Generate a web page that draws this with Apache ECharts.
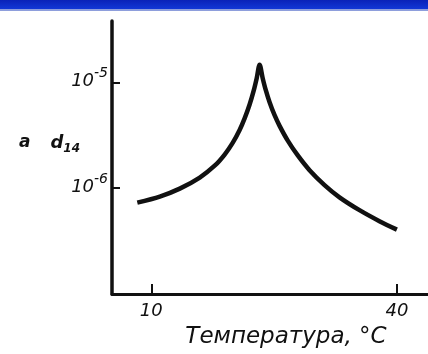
<!DOCTYPE html>
<html>
<head>
<meta charset="utf-8">
<script src="https://cdn.jsdelivr.net/npm/echarts@6/dist/echarts.min.js"></script>
<style>
  html, body { margin: 0; padding: 0; background: #ffffff; }
  #band { position: absolute; left: 0; top: 0; width: 428px; height: 9px;
          background: linear-gradient(to bottom, #0a22b8 0%, #1237d6 100%); }
  #band2 { position: absolute; left: 0; top: 9px; width: 428px; height: 2px; background: #8e9edc; }
  #chart { position: absolute; left: 0; top: 0; width: 428px; height: 354px; }
</style>
</head>
<body>
<div id="chart"></div>
<div id="band"></div>
<div id="band2"></div>
<script>
// Temperature, °C
const temperature = [8.29, 11.04, 13.48, 15.92, 17.74, 18.96, 19.94, 20.79, 21.4, 22.01, 22.5, 22.87, 23.23,
                     23.6, 23.96, 24.45, 25.06, 25.67, 26.65, 27.87, 29.33, 31.16, 32.99, 35.43, 37.87, 40.0];
// piezoelectric modulus d14
const d14 = [7.3e-7, 8.33e-7, 9.9e-7, 1.26e-6, 1.63e-6, 2.08e-6, 2.68e-6, 3.55e-6, 4.56e-6, 6.17e-6, 8.3e-6, 1.09e-5, 1.47e-5,
             1.1e-5, 8.57e-6, 6.49e-6, 4.89e-6, 3.88e-6, 2.83e-6, 2.05e-6, 1.48e-6, 1.07e-6, 8.2e-7, 6.2e-7, 4.88e-7, 4.06e-7];
const xTicks = [10, 40];
const yTickExponents = [-6, -5];   // labelled decades: 10^-6, 10^-5
const yMin = 1e-7, yMax = 3.8e-5;

const FONT = "'DejaVu Sans', sans-serif";
const chart = echarts.init(document.getElementById('chart'), null, { renderer: 'canvas' });

chart.setOption({
  animation: false,
  backgroundColor: '#ffffff',
  title: {
    text: '{a|a}    {d|d}{sub|14}',
    left: 14, top: 126,
    textStyle: {
      rich: {
        a: { fontFamily: FONT, fontStyle: 'italic', fontWeight: 'bold', fontSize: 17, color: '#111' },
        d: { fontFamily: FONT, fontStyle: 'italic', fontSize: 18, color: '#111' },
        sub: { fontFamily: FONT, fontStyle: 'italic', fontSize: 12, color: '#111', verticalAlign: 'bottom', padding: [12, 0, 0, 0] }
      }
    }
  },
  grid: { left: 112, right: 0, top: 21, bottom: 57, containLabel: false },
  xAxis: {
    type: 'value',
    min: 5.2, max: 43.8,
    name: 'Температура, °С',
    nameLocation: 'middle',
    nameGap: 32,
    nameTextStyle: { fontFamily: FONT, fontStyle: 'italic', fontSize: 23, color: '#111', padding: [0, 0, 0, 32] },
    axisLine: { lineStyle: { color: '#111', width: 3 } },
    axisTick: { inside: true, length: 10, customValues: xTicks, lineStyle: { color: '#111', width: 2 } },
    axisLabel: { customValues: xTicks, fontFamily: FONT, fontStyle: 'italic', fontSize: 18, color: '#111', margin: 8 },
    splitLine: { show: false }
  },
  yAxis: [{
    type: 'log',
    logBase: 10,
    min: yMin, max: yMax,
    position: 'left',
    axisLine: { show: true, lineStyle: { color: '#111', width: 3.5 } },
    axisTick: { show: false },
    axisLabel: { show: false },
    splitLine: { show: false },
    minorTick: { show: false }
  }, {
    type: 'value',
    position: 'left',
    min: Math.log10(yMin), max: Math.log10(yMax),
    axisLine: { show: false },
    axisTick: { show: true, inside: true, length: 8, customValues: yTickExponents, lineStyle: { color: '#111', width: 2 } },
    axisLabel: {
      customValues: yTickExponents,
      margin: 4,
      padding: [0, 0, 8, 0],
      formatter: function (v) { return '{b|10}{s|' + Math.round(v) + '}'; },
      rich: {
        b: { fontFamily: FONT, fontStyle: 'italic', fontSize: 18, color: '#111', lineHeight: 24, verticalAlign: 'bottom' },
        s: { fontFamily: FONT, fontStyle: 'italic', fontSize: 14, color: '#111', lineHeight: 24, verticalAlign: 'top' }
      }
    },
    splitLine: { show: false }
  }],
  series: [{
    type: 'line',
    yAxisIndex: 0,
    data: temperature.map((t, i) => [t, d14[i]]),
    smooth: 0.3,
    showSymbol: false,
    symbol: 'none',
    lineStyle: { color: '#111', width: 4.5 },
    clip: true
  }]
});
</script>
</body>
</html>
